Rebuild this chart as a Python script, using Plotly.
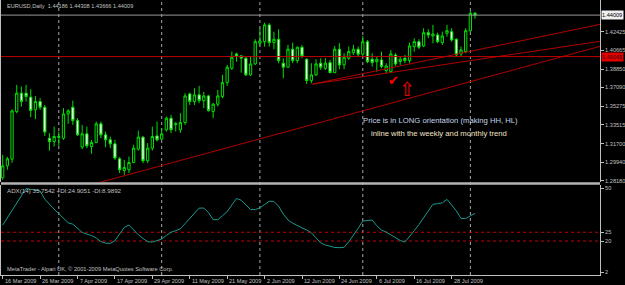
import plotly.graph_objects as go

# ---------------- data ----------------
opens = [1.2847, 1.2961, 1.3025, 1.3479, 1.3655, 1.3655, 1.3617, 1.3496, 1.3575, 1.3521,
         1.3225, 1.3193, 1.3241, 1.3225, 1.3457, 1.3521, 1.3393, 1.3140, 1.3267, 1.3145,
         1.3184, 1.3362, 1.3257, 1.3209, 1.3171, 1.3028, 1.2916, 1.2923, 1.2993, 1.3121,
         1.3235, 1.3009, 1.3130, 1.3247, 1.3216, 1.3305, 1.3416, 1.3355, 1.3305, 1.3374,
         1.3648, 1.3575, 1.3639, 1.3584, 1.3629, 1.3479, 1.3550, 1.3622, 1.3756, 1.3893,
         1.4030, 1.4011, 1.3989, 1.3830, 1.3934, 1.4132, 1.4147, 1.4307, 1.4138, 1.4170,
         1.3941, 1.3903, 1.4075, 1.3966, 1.4094, 1.3979, 1.3775, 1.3830, 1.3941, 1.3893,
         1.3947, 1.3851, 1.4075, 1.3925, 1.3989, 1.4042, 1.4075, 1.4027, 1.4147, 1.3979,
         1.3956, 1.3973, 1.3871, 1.3861, 1.4020, 1.3956, 1.3989, 1.3966, 1.4100, 1.4147,
         1.4106, 1.4233, 1.4202, 1.4211, 1.4138, 1.4227, 1.4243, 1.4170, 1.4030, 1.4052,
         1.4252, 1.44186]
highs = [1.3066, 1.3047, 1.3500, 1.3734, 1.3718, 1.3734, 1.3693, 1.3629, 1.3607, 1.3543,
         1.3273, 1.3336, 1.3288, 1.3512, 1.3502, 1.3584, 1.3416, 1.3352, 1.3336, 1.3209,
         1.3384, 1.3384, 1.3288, 1.3241, 1.3209, 1.3044, 1.3018, 1.3050, 1.3162, 1.3298,
         1.3247, 1.3178, 1.3336, 1.3384, 1.3321, 1.3432, 1.3448, 1.3380, 1.3464, 1.3655,
         1.3661, 1.3703, 1.3725, 1.3667, 1.3639, 1.3562, 1.3686, 1.3830, 1.3925, 1.4052,
         1.4042, 1.4020, 1.3998, 1.4004, 1.4170, 1.4275, 1.4329, 1.4323, 1.4243, 1.4266,
         1.3989, 1.4116, 1.4138, 1.4100, 1.4116, 1.3989, 1.3941, 1.3979, 1.3989, 1.3989,
         1.3973, 1.4106, 1.4132, 1.4037, 1.4100, 1.4116, 1.4100, 1.4202, 1.4163, 1.4037,
         1.4004, 1.4052, 1.3941, 1.4068, 1.4037, 1.4004, 1.4020, 1.4138, 1.4180, 1.4170,
         1.4275, 1.4266, 1.4307, 1.4233, 1.4243, 1.4307, 1.4275, 1.4180, 1.4100, 1.4275,
         1.4440, 1.44308]
lows = [1.2828, 1.2923, 1.2990, 1.3464, 1.3527, 1.3575, 1.3426, 1.3407, 1.3496, 1.3247,
        1.3107, 1.3145, 1.3152, 1.3209, 1.3362, 1.3352, 1.3247, 1.3121, 1.3130, 1.3076,
        1.3178, 1.3225, 1.3140, 1.3130, 1.3018, 1.2892, 1.2875, 1.2892, 1.2987, 1.3107,
        1.2987, 1.2987, 1.3107, 1.3193, 1.3209, 1.3288, 1.3273, 1.3290, 1.3276, 1.3352,
        1.3543, 1.3543, 1.3559, 1.3512, 1.3479, 1.3416, 1.3527, 1.3607, 1.3725, 1.3877,
        1.3956, 1.3851, 1.3820, 1.3820, 1.3925, 1.4106, 1.4100, 1.4100, 1.4075, 1.3941,
        1.3798, 1.3896, 1.3941, 1.3941, 1.3989, 1.3744, 1.3750, 1.3820, 1.3877, 1.3877,
        1.3846, 1.3846, 1.3884, 1.3884, 1.3973, 1.4020, 1.4004, 1.4004, 1.3941, 1.3909,
        1.3861, 1.3893, 1.3846, 1.3846, 1.3915, 1.3925, 1.3941, 1.3941, 1.4052, 1.4075,
        1.4094, 1.4180, 1.4132, 1.4132, 1.4116, 1.4195, 1.4147, 1.4004, 1.4004, 1.4037,
        1.4233, 1.43666]
closes = [1.2961, 1.3028, 1.3486, 1.3655, 1.3575, 1.3622, 1.3489, 1.3575, 1.3521, 1.3283,
          1.3193, 1.3241, 1.3235, 1.3457, 1.3486, 1.3393, 1.3257, 1.3267, 1.3152, 1.3184,
          1.3362, 1.3257, 1.3209, 1.3171, 1.3035, 1.2923, 1.2945, 1.2993, 1.3130, 1.3235,
          1.3009, 1.3130, 1.3241, 1.3209, 1.3267, 1.3416, 1.3305, 1.3362, 1.3374, 1.3629,
          1.3575, 1.3639, 1.3584, 1.3629, 1.3489, 1.3550, 1.3629, 1.3756, 1.3903, 1.3998,
          1.4011, 1.3989, 1.3830, 1.3934, 1.4147, 1.4154, 1.4307, 1.4138, 1.4170, 1.3966,
          1.3903, 1.4075, 1.3966, 1.4094, 1.4011, 1.3775, 1.3830, 1.3934, 1.3903, 1.3941,
          1.3851, 1.4075, 1.3925, 1.3998, 1.4052, 1.4075, 1.4027, 1.4147, 1.3956, 1.3947,
          1.3979, 1.3909, 1.3915, 1.4030, 1.3934, 1.3979, 1.3966, 1.4106, 1.4147, 1.4094,
          1.4233, 1.4211, 1.4221, 1.4147, 1.4202, 1.4252, 1.4163, 1.4020, 1.4068, 1.4252,
          1.4418, 1.44009]
adx = [29.1, 33.3, 37.5, 41.8, 46.0, 50.0, 49.5, 49.0, 48.6, 43.9,
       40.8, 38.2, 35.6, 33.0, 30.4, 29.6, 27.1, 24.9, 23.9, 23.1,
       21.7, 19.7, 18.8, 18.6, 20.2, 24.3, 27.8, 29.1, 26.2, 23.6,
       21.5, 19.6, 19.4, 20.2, 21.1, 23.2, 25.0, 25.9, 27.0, 29.9,
       32.8, 35.8, 38.8, 38.8, 36.3, 32.2, 32.2, 34.5, 36.7, 40.6,
       44.3, 43.3, 40.5, 38.0, 37.9, 39.0, 40.8, 42.7, 42.6, 39.9,
       35.4, 32.0, 30.2, 28.7, 27.5, 26.3, 24.7, 21.8, 18.9, 17.7,
       16.8, 16.3, 16.2, 16.4, 19.6, 23.2, 27.2, 31.4, 31.9, 32.0,
       28.7, 26.2, 25.1, 23.5, 21.7, 20.3, 19.4, 23.0, 25.9, 29.4,
       33.4, 37.5, 41.0, 41.3, 41.8, 43.8, 40.3, 37.2, 32.9, 32.8,
       34.4, 35.75]
bars = list(range(len(opens)))

date_label_bars = [0, 8, 16, 24, 32, 40, 48, 56, 64, 72, 80, 88, 96]
date_labels = ["16 Mar 2009", "26 Mar 2009", "7 Apr 2009", "17 Apr 2009", "29 Apr 2009",
               "11 May 2009", "21 May 2009", "2 Jun 2009", "12 Jun 2009", "24 Jun 2009",
               "6 Jul 2009", "16 Jul 2009", "28 Jul 2009"]
month_start_bars = [12, 34, 55, 77, 100]

price_ticks = [1.42425, 1.40665, 1.38850, 1.37090, 1.35275, 1.33515, 1.31700, 1.29940, 1.28180]
adx_ticks = [50, 25, 20, 2]
adx_levels = [25, 20]

bid_price = 1.44009
hline_price = 1.40045

# trend lines drawn by the trader: (bar, price) anchor pairs
trend_long = ([20.2, 127.7], [1.2796, 1.4102])
trend_up1 = ([66.2, 127.7], [1.3741, 1.4150])
trend_up2 = ([66.2, 127.7], [1.3741, 1.4312])

# ---------------- figure ----------------
GREEN = "#00e000"
GRAY = "#c0c0c0"
FONT = "Liberation Sans"
XR = [-0.361, 127.72]

fig = go.Figure()

fig.add_trace(go.Candlestick(
    x=bars, open=opens, high=highs, low=lows, close=closes,
    increasing=dict(line=dict(color=GREEN, width=1), fillcolor="#000000"),
    decreasing=dict(line=dict(color=GREEN, width=1), fillcolor="#ffffff"),
    whiskerwidth=0, xaxis="x", yaxis="y", hoverinfo="skip"))

for tx, ty in [trend_long, trend_up1, trend_up2]:
    fig.add_trace(go.Scatter(x=tx, y=ty, mode="lines", line=dict(color="#b00000", width=1),
                             xaxis="x", yaxis="y", hoverinfo="skip"))

fig.add_trace(go.Scatter(x=XR, y=[hline_price] * 2, mode="lines",
                         line=dict(color="#c00000", width=1), xaxis="x", yaxis="y"))
fig.add_trace(go.Scatter(x=XR, y=[bid_price] * 2, mode="lines",
                         line=dict(color="#9a9a9a", width=1), xaxis="x", yaxis="y"))

for lv in adx_levels:
    fig.add_trace(go.Scatter(x=XR, y=[lv, lv], mode="lines",
                             line=dict(color="#c00000", width=1, dash="dot"),
                             xaxis="x", yaxis="y2"))

fig.add_trace(go.Scatter(x=bars, y=adx, mode="lines", line=dict(color="#1a9a8e", width=1),
                         xaxis="x", yaxis="y2", hoverinfo="skip"))

shapes = []
for b in month_start_bars:
    shapes.append(dict(type="line", xref="x", yref="paper", x0=b, x1=b, y0=0, y1=1,
                       line=dict(color="#a8a8a8", width=1, dash="dot"), layer="below"))
# pane separator
shapes.append(dict(type="rect", xref="paper", yref="paper", x0=0, x1=1,
                   y0=(275 - 184.8) / 275, y1=(275 - 182.3) / 275,
                   fillcolor="#b4b4b4", line=dict(width=0)))

ann = []
ann.append(dict(text="EURUSD,Daily  1.44186 1.44308 1.43666 1.44009", xref="paper", yref="paper",
                x=0.006, y=(275 - 6) / 275, xanchor="left", yanchor="middle", showarrow=False,
                font=dict(family=FONT, size=5.6, color=GRAY)))
ann.append(dict(text="ADX(14) 35.7542 +DI:24.9051 -DI:8.9892", xref="paper", yref="paper",
                x=0.006, y=(275 - 190) / 275, xanchor="left", yanchor="middle", showarrow=False,
                font=dict(family=FONT, size=6.2, color=GRAY)))
ann.append(dict(text="MetaTrader - Alpari UK, © 2001-2009 MetaQuotes Software Corp.", xref="paper",
                yref="paper", x=0.006, y=(275 - 269) / 275, xanchor="left", yanchor="middle",
                showarrow=False, font=dict(family=FONT, size=5.7, color=GRAY)))
ann.append(dict(text="Price is in LONG orientation (making HH, HL)", xref="x", yref="y",
                x=76.7, y=1.3393, xanchor="left", yanchor="middle", showarrow=False,
                font=dict(family=FONT, size=7.7, color="#c4d4ea")))
ann.append(dict(text="inline with the weekly and monthly trend", xref="x", yref="y",
                x=78.4, y=1.3273, xanchor="left", yanchor="middle", showarrow=False,
                font=dict(family=FONT, size=7.7, color="#f2e2c4")))
ann.append(dict(text="✔", xref="x", yref="y", x=83.6, y=1.3772, xanchor="center",
                yanchor="middle", showarrow=False, font=dict(family="DejaVu Sans", size=13, color="#ff0000")))
ann.append(dict(text="⇧", xref="x", yref="y", x=86.5, y=1.3698, xanchor="center",
                yanchor="middle", showarrow=False, font=dict(family="DejaVu Sans", size=19, color="#ff0000")))
for b, t in zip(date_label_bars, date_labels):
    ann.append(dict(text=t, xref="x", yref="paper", x=b, y=(275 - 280.5) / 275,
                    xanchor="left", yanchor="middle", xshift=0, showarrow=False,
                    font=dict(family=FONT, size=5.6, color=GRAY)))
ann.append(dict(text="%.5f" % bid_price, xref="paper", yref="y", x=1, y=bid_price, xanchor="left",
                yanchor="middle", xshift=1, showarrow=False, bgcolor="#f0f0f0", borderpad=0,
                width=21, height=8, align="left", font=dict(family=FONT, size=5.6, color="#000000")))
ann.append(dict(text="%.5f" % hline_price, xref="paper", yref="y", x=1, y=hline_price, xanchor="left",
                yanchor="middle", xshift=1, showarrow=False, bgcolor="#e00000", borderpad=0,
                width=21, height=8, align="left", font=dict(family=FONT, size=5.6, color="#400000")))

fig.update_layout(
    width=625, height=285, margin=dict(l=0, r=22, t=0, b=10),
    paper_bgcolor="#000000", plot_bgcolor="#000000", showlegend=False,
    shapes=shapes, annotations=ann,
    xaxis=dict(domain=[0, 1], anchor="y2", range=XR, showgrid=False, zeroline=False,
               showline=True, linecolor=GRAY, ticks="outside", ticklen=3, tickcolor=GRAY,
               tickvals=date_label_bars, showticklabels=False, rangeslider=dict(visible=False),
               fixedrange=True),
    yaxis=dict(domain=[(275 - 182.3) / 275, 1], anchor="x", side="right",
               range=[1.28037, 1.45451], showgrid=False, zeroline=False, showline=True,
               mirror=True, linecolor=GRAY, ticks="outside", ticklen=3, tickcolor=GRAY,
               tickvals=price_ticks, ticktext=["%.5f" % v for v in price_ticks],
               tickfont=dict(family=FONT, size=5.6, color=GRAY)),
    yaxis2=dict(domain=[0, (275 - 185) / 275], anchor="x", side="right",
                range=[0.57, 52.0], showgrid=False, zeroline=False, showline=True,
                mirror=True, linecolor=GRAY, ticks="outside", ticklen=3, tickcolor=GRAY,
                tickvals=adx_ticks, ticktext=[str(v) for v in adx_ticks],
                tickfont=dict(family=FONT, size=5.6, color=GRAY)),
)

fig.write_html("out.html")
